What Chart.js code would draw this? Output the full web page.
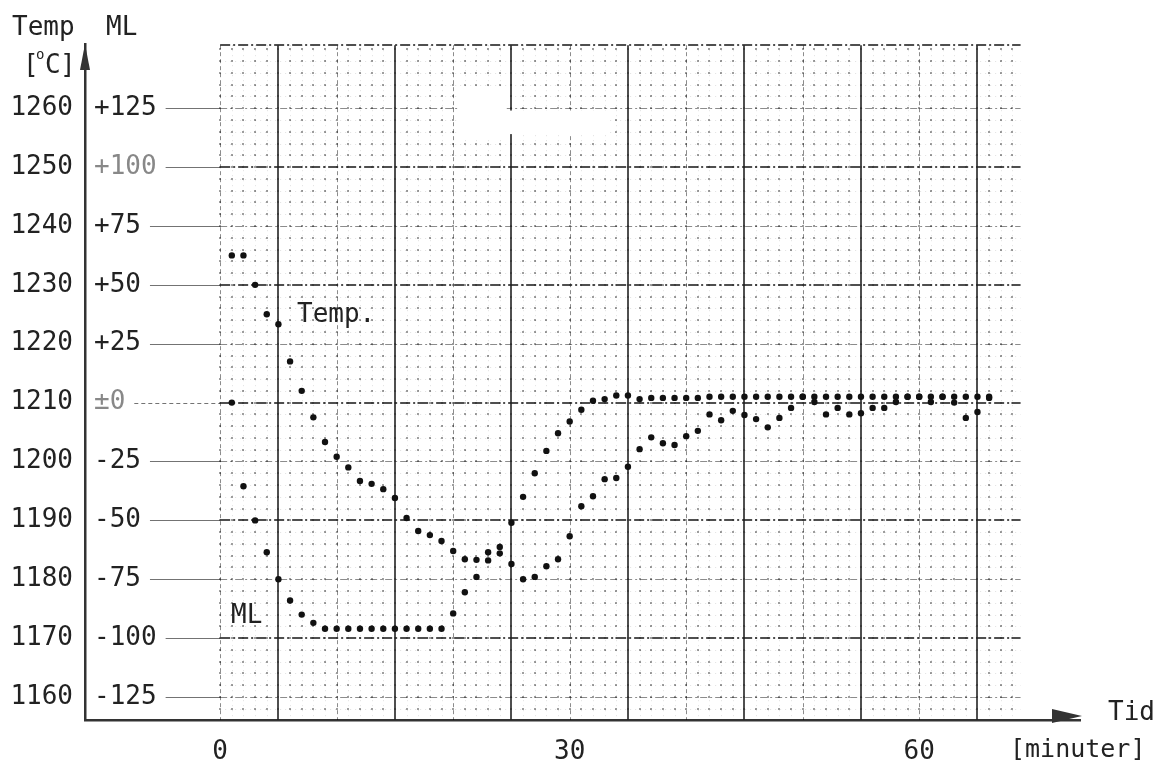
<!DOCTYPE html>
<html>
<head>
<meta charset="utf-8">
<script src="https://cdn.jsdelivr.net/npm/chart.js@4.4.1/dist/chart.umd.min.js"></script>
<style>
html, body { margin: 0; padding: 0; background: #fff; }
canvas { display: block; }
</style>
</head>
<body>
<canvas id="chart" width="1171" height="777"></canvas>
<script>
// readings, one per minute
var minutes = [1, 2, 3, 4, 5, 6, 7, 8, 9, 10, 11, 12, 13, 14, 15, 16, 17, 18, 19, 20,
  21, 22, 23, 24, 25, 26, 27, 28, 29, 30, 31, 32, 33, 34, 35, 36, 37, 38, 39, 40,
  41, 42, 43, 44, 45, 46, 47, 48, 49, 50, 51, 52, 53, 54, 55, 56, 57, 58, 59, 60,
  61, 62, 63, 64, 65, 66];

// temperature [C]
var tempValues = [1235, 1235, 1230, 1225, 1223.3, 1217, 1212, 1207.5, 1203.3, 1200.8,
  1199, 1196.7, 1196.2, 1195.3, 1193.8, 1190.4, 1188.2, 1187.5, 1186.5, 1184.8,
  1183.4, 1183.3, 1184.6, 1185.5, 1182.6, 1180, 1180.4, 1182.2, 1183.4, 1187.3,
  1192.4, 1194.1, 1197, 1197.2, 1199.1, 1202.1, 1204.1, 1203.1, 1202.8, 1204.3,
  1205.2, 1208, 1207, 1208.6, 1207.9, 1207.2, 1205.8, 1207.4, 1209.1, 1211,
  1210.1, 1208, 1209.1, 1208, 1208.2, 1209.1, 1209.1, 1210.1, 1211, 1211,
  1210.1, 1211, 1210, 1207.4, 1208.4, 1210.8];

// ML
var mlValues = [0, -35.5, -50, -63.5, -75, -84, -90, -93.5, -96, -96,
  -96, -96, -96, -96, -96, -96, -96, -96, -96, -89.5,
  -80.5, -74, -67, -64, -51, -40, -30, -20.5, -13, -8,
  -3, 0.8, 1.5, 3, 3, 1.5, 2, 2, 2, 2,
  2, 2.5, 2.5, 2.5, 2.5, 2.5, 2.5, 2.5, 2.5, 2.5,
  2.5, 2.5, 2.5, 2.5, 2.5, 2.5, 2.5, 2.5, 2.5, 2.5,
  2.5, 2.5, 2.5, 2.5, 2.5, 2.5];

var tempTicks = [1160, 1170, 1180, 1190, 1200, 1210, 1220, 1230, 1240, 1250, 1260];
var mlTicks = [-125, -100, -75, -50, -25, 0, 25, 50, 75, 100, 125];
var timeTicks = [0, 30, 60];

var mlZeroTemp = 1210;   // ML 0 sits on this temperature
var mlPerDegree = 2.5;   // 25 ML per 10 C

var FONT = '"DejaVu Sans Mono", "Liberation Mono", monospace';
var yMin = 1156.1, yMax = 1270.9;
var xMin = -11.6, xMax = 73.8;
var paper = { x0: 0, x1: 68.7, y0: yMin, y1: 1270.7 };

function mlLabel(v) {
  if (v === 0) return '\u00b10';
  return v > 0 ? '+' + v : '-' + Math.abs(v);
}

function seg(ctx, x1, y1, x2, y2) {
  ctx.beginPath();
  ctx.moveTo(x1, y1);
  ctx.lineTo(x2, y2);
  ctx.stroke();
}

var graphPaper = {
  id: 'graphPaper',
  beforeDatasetsDraw: function (chart) {
    var ctx = chart.ctx, xs = chart.scales.x, ys = chart.scales.y;
    var L = xs.getPixelForValue(paper.x0), R = xs.getPixelForValue(paper.x1);
    var T = ys.getPixelForValue(paper.y1), B = ys.getPixelForValue(paper.y0);
    var t, d, p, q;
    ctx.save();

    // fine grid, 1 min x 2 C: faint dotted lines with dots at the crossings
    ctx.lineWidth = 1;
    ctx.strokeStyle = 'rgba(0,0,0,0.12)';
    ctx.setLineDash([1, 4]);
    for (t = 1; t < paper.x1; t++) {
      if (t % 5 === 0) continue;
      p = Math.round(xs.getPixelForValue(t)) + 0.5;
      seg(ctx, p, T, p, B);
    }
    for (d = 1158; d < paper.y1; d += 2) {
      if (d % 10 === 0) continue;
      p = Math.round(ys.getPixelForValue(d)) + 0.5;
      seg(ctx, L, p, R, p);
    }
    ctx.fillStyle = 'rgba(0,0,0,0.38)';
    for (t = 0; t < paper.x1; t++) {
      p = Math.round(xs.getPixelForValue(t));
      for (d = 1158; d < paper.y1; d += 2) {
        q = Math.round(ys.getPixelForValue(d));
        ctx.fillRect(p - 1, q - 1, 2, 2);
      }
    }

    // lighter dashed lines: 0, 10, 20 ... min and even tens of C
    ctx.strokeStyle = 'rgba(0,0,0,0.45)';
    ctx.setLineDash([4, 3]);
    for (t = 0; t < paper.x1; t += 10) {
      p = Math.round(xs.getPixelForValue(t)) + 0.5;
      seg(ctx, p, T, p, B);
    }
    ctx.setLineDash([7, 3, 2, 3]);
    for (d = 1160; d < paper.y1; d += 20) {
      p = Math.round(ys.getPixelForValue(d)) + 0.5;
      seg(ctx, L, p, R, p);
    }

    // heavy lines: 5, 15, 25 ... min and odd tens of C, plus top edge
    ctx.strokeStyle = 'rgba(35,35,35,0.8)';
    ctx.lineWidth = 2;
    ctx.setLineDash([]);
    for (t = 5; t < paper.x1; t += 10) {
      p = Math.round(xs.getPixelForValue(t));
      seg(ctx, p, T, p, B);
    }
    ctx.setLineDash([10, 3, 2, 3]);
    for (d = 1170; d < paper.y1 - 1; d += 20) {
      p = Math.round(ys.getPixelForValue(d));
      seg(ctx, L, p, R, p);
    }
    seg(ctx, L, Math.round(T), R, Math.round(T));

    // erased patch on the sheet
    ctx.fillStyle = '#fff';
    ctx.fillRect(xs.getPixelForValue(20.4), ys.getPixelForValue(1263.5),
      xs.getPixelForValue(24.6) - xs.getPixelForValue(20.4),
      ys.getPixelForValue(1254.8) - ys.getPixelForValue(1263.5));
    ctx.fillRect(xs.getPixelForValue(20.4), ys.getPixelForValue(1259.6),
      xs.getPixelForValue(33.3) - xs.getPixelForValue(20.4),
      ys.getPixelForValue(1255.6) - ys.getPixelForValue(1259.6));

    // thin leaders from the ML labels to the paper
    ctx.font = '26px ' + FONT;
    ctx.lineWidth = 1;
    ctx.strokeStyle = 'rgba(0,0,0,0.55)';
    var axisX = chart.chartArea.left;
    tempTicks.forEach(function (v, i) {
      var w = ctx.measureText(mlLabel(mlTicks[i])).width;
      p = Math.round(ys.getPixelForValue(v)) + 0.5;
      ctx.setLineDash(v === mlZeroTemp ? [4, 3] : []);
      seg(ctx, axisX + 10 + w + 8, p, L, p);
    });
    ctx.restore();
  },
  afterDraw: function (chart) {
    var ctx = chart.ctx, a = chart.chartArea;
    ctx.save();
    // arrow heads
    ctx.fillStyle = '#333';
    ctx.beginPath();
    ctx.moveTo(a.left, a.top);
    ctx.lineTo(a.left - 5, a.top + 26);
    ctx.lineTo(a.left + 5, a.top + 26);
    ctx.closePath();
    ctx.fill();
    ctx.beginPath();
    ctx.moveTo(a.right + 2, a.bottom - 4);
    ctx.lineTo(a.right - 28, a.bottom - 11);
    ctx.lineTo(a.right - 28, a.bottom + 3);
    ctx.closePath();
    ctx.fill();

    ctx.fillStyle = '#222';
    ctx.textBaseline = 'alphabetic';
    ctx.textAlign = 'left';
    ctx.font = '26px ' + FONT;
    ctx.fillText('Temp', 12, 35);
    ctx.fillText('ML', 106, 35);
    ctx.fillText('[', 23, 73);
    ctx.fillText('C', 45, 73);
    ctx.fillText(']', 60, 73);
    ctx.font = '14px ' + FONT;
    ctx.fillText('o', 36, 59);
    ctx.font = '26px ' + FONT;
    ctx.fillText('Temp.', 297, 322);
    ctx.fillText('ML', 231, 623);
    ctx.fillText('Tid', 1108, 720);
    ctx.font = '25px ' + FONT;
    ctx.fillText('[minuter]', 1010, 757);
    ctx.restore();
  }
};

var dotStyle = {
  showLine: false,
  pointRadius: 3.2,
  pointHoverRadius: 3.2,
  pointBackgroundColor: '#111',
  pointBorderWidth: 0
};

new Chart(document.getElementById('chart'), {
  type: 'scatter',
  data: {
    datasets: [
      Object.assign({
        label: 'Temp.',
        yAxisID: 'y',
        data: minutes.map(function (m, i) { return { x: m, y: tempValues[i] }; })
      }, dotStyle),
      Object.assign({
        label: 'ML',
        yAxisID: 'y2',
        data: minutes.map(function (m, i) { return { x: m, y: mlValues[i] }; })
      }, dotStyle)
    ]
  },
  options: {
    responsive: false,
    animation: false,
    devicePixelRatio: 1,
    layout: { padding: { top: 44, right: 91, left: 0, bottom: 0 } },
    plugins: { legend: { display: false }, tooltip: { enabled: false } },
    scales: {
      x: {
        type: 'linear',
        min: xMin,
        max: xMax,
        grid: { display: false, drawTicks: false },
        border: { display: true, color: '#333', width: 2.5 },
        afterBuildTicks: function (s) { s.ticks = timeTicks.map(function (v) { return { value: v }; }); },
        afterFit: function (s) { s.height = 57; },
        ticks: {
          autoSkip: false, maxRotation: 0, padding: 17, color: '#222',
          font: { family: FONT, size: 26 },
          callback: function (v) { return String(v); }
        }
      },
      y: {
        position: 'left',
        weight: 1,
        min: yMin,
        max: yMax,
        grid: { display: false, drawTicks: false },
        border: { display: true, color: '#333', width: 2.5 },
        afterBuildTicks: function (s) { s.ticks = tempTicks.map(function (v) { return { value: v }; }); },
        afterFit: function (s) { s.width = 85; },
        ticks: {
          autoSkip: false, padding: 12, color: '#222',
          font: { family: FONT, size: 26 },
          callback: function (v) { return String(v); }
        }
      },
      y2: {
        position: 'left',
        weight: 0,
        min: (yMin - mlZeroTemp) * mlPerDegree,
        max: (yMax - mlZeroTemp) * mlPerDegree,
        grid: { display: false, drawTicks: false },
        border: { display: false },
        afterBuildTicks: function (s) { s.ticks = mlTicks.map(function (v) { return { value: v }; }); },
        afterFit: function (s) { s.width = 0; },
        ticks: {
          autoSkip: false,
          mirror: true,
          padding: 9,
          font: { family: FONT, size: 26 },
          color: function (c) { return (c.tick.value === 100 || c.tick.value === 0) ? '#888' : '#222'; },
          callback: function (v) { return mlLabel(v); }
        }
      }
    }
  },
  plugins: [graphPaper]
});
</script>
</body>
</html>
